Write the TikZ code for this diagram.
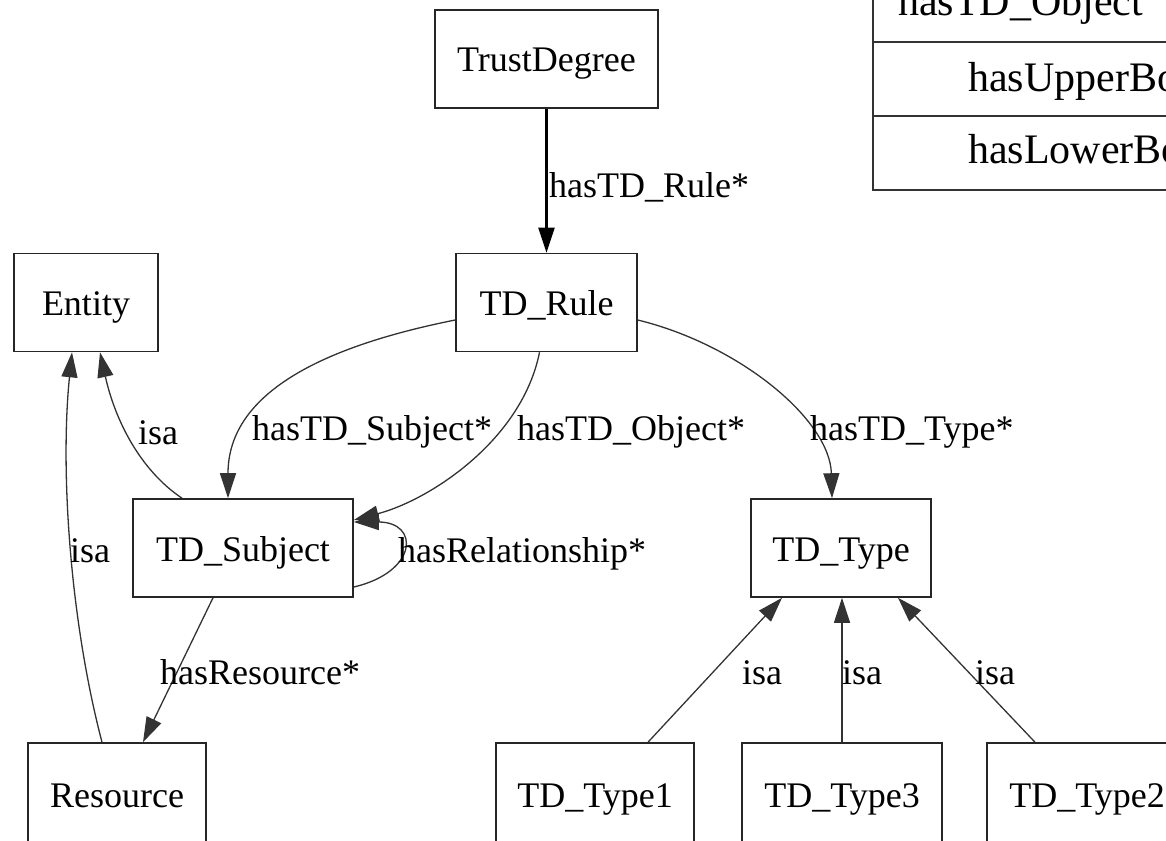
\documentclass[tikz,border=0pt]{standalone}
\usepackage{fontspec}
\setmainfont{Liberation Serif}
\usetikzlibrary{arrows.meta}
\begin{document}
\begin{tikzpicture}[x=1pt, y=-1pt,
  cls/.style={draw=black!85, line width=1.6pt, rectangle, inner sep=0pt,
    minimum height=98pt, text height=26pt, text depth=0pt,
    font=\fontsize{36}{40}\selectfont},
  lowcls/.style={cls, minimum height=102pt},
  rel/.style={draw=black!80, line width=1.3pt,
    -{Triangle[length=25pt,width=16pt]}},
  lbl/.style={inner sep=0pt, anchor=base west, font=\fontsize{36}{40}\selectfont},
  rowtxt/.style={inner sep=0pt, anchor=base west, font=\fontsize{42}{46}\selectfont},
  rowline/.style={draw=black!80, line width=1.6pt}]
\useasboundingbox (0,0) rectangle (1166,840);
\clip (0,0) rectangle (1166,840);
\fill[white] (0,0) rectangle (1166,840);

% classes
\node[cls, minimum width=223pt] (td)     at (546.5,59)   {TrustDegree};
\node[cls, minimum width=181pt] (rule)   at (546.5,302.5) {TD\_Rule};
\node[cls, minimum width=144pt] (entity) at (86,302.5)   {Entity};
\node[cls, minimum width=220pt] (subj)   at (243,548)    {TD\_Subject};
\node[cls, minimum width=180pt] (type)   at (841,548)    {TD\_Type};
\node[lowcls, minimum width=178pt] (res) at (117,794)    {Resource};
\node[lowcls, minimum width=198pt] (t1)  at (595,794)    {TD\_Type1};
\node[lowcls, minimum width=200pt] (t3)  at (842,794)    {TD\_Type3};
\node[lowcls, minimum width=200pt] (t2)  at (1087,794)   {TD\_Type2};

% property record
\draw[rowline] (873,-5) -- (873,190) -- (1180,190);
\draw[rowline] (873,42) -- (1180,42);
\draw[rowline] (873,116) -- (1180,116);
\node[rowtxt] (pobj) at (898,16)  {hasTD\_Object};
\node[rowtxt] (pup)  at (968,92)  {hasUpperBound};
\node[rowtxt] (plow) at (968,163) {hasLowerBound};

% relations
\draw[rel, line width=2.4pt, draw=black] (td.south) -- (rule.north);
\draw[rel] ([yshift=-17.5pt]rule.west) .. controls (330,345) and (228,390) .. ([xshift=-15pt]subj.north);
\draw[rel] ([xshift=-7pt]rule.south) .. controls (522,440) and (430,500) .. ([yshift=28pt]subj.east);
\draw[rel] ([yshift=-39pt]subj.east) .. controls (418,572) and (420,522) .. ([yshift=26pt]subj.east);
\draw[rel] ([yshift=-17.5pt]rule.east) .. controls (740,345) and (830,420) .. ([xshift=-9pt]type.north);
\draw[rel] ([xshift=-61pt]subj.north) .. controls (140,470) and (115,420) .. ([xshift=14pt]entity.south);
\draw[rel] ([xshift=-15pt]res.north) .. controls (70,620) and (60,470) .. ([xshift=-14pt]entity.south);
\draw[rel] ([xshift=-30pt]subj.south) -- ([xshift=26pt]res.north);
\draw[rel] ([xshift=53pt]t1.north) -- ([xshift=-59pt]type.south);
\draw[rel] (t3.north) -- (t3.north |- type.south);
\draw[rel] ([xshift=-52pt]t2.north) -- ([xshift=57pt]type.south);

% relation labels
\node[lbl] (lrule) at (549,197) {hasTD\_Rule*};
\node[lbl] (lsubj) at (252,440) {hasTD\_Subject*};
\node[lbl] (lobj)  at (517,440) {hasTD\_Object*};
\node[lbl] (ltype) at (810,440) {hasTD\_Type*};
\node[lbl] (lisa1) at (138,444) {isa};
\node[lbl] (lisa2) at (70,562)  {isa};
\node[lbl] (lrel)  at (398,562) {hasRelationship*};
\node[lbl] (lres)  at (160,684) {hasResource*};
\node[lbl] (lisa3) at (742,684) {isa};
\node[lbl] (lisa4) at (842,684) {isa};
\node[lbl] (lisa5) at (975,684) {isa};
\end{tikzpicture}
\end{document}
